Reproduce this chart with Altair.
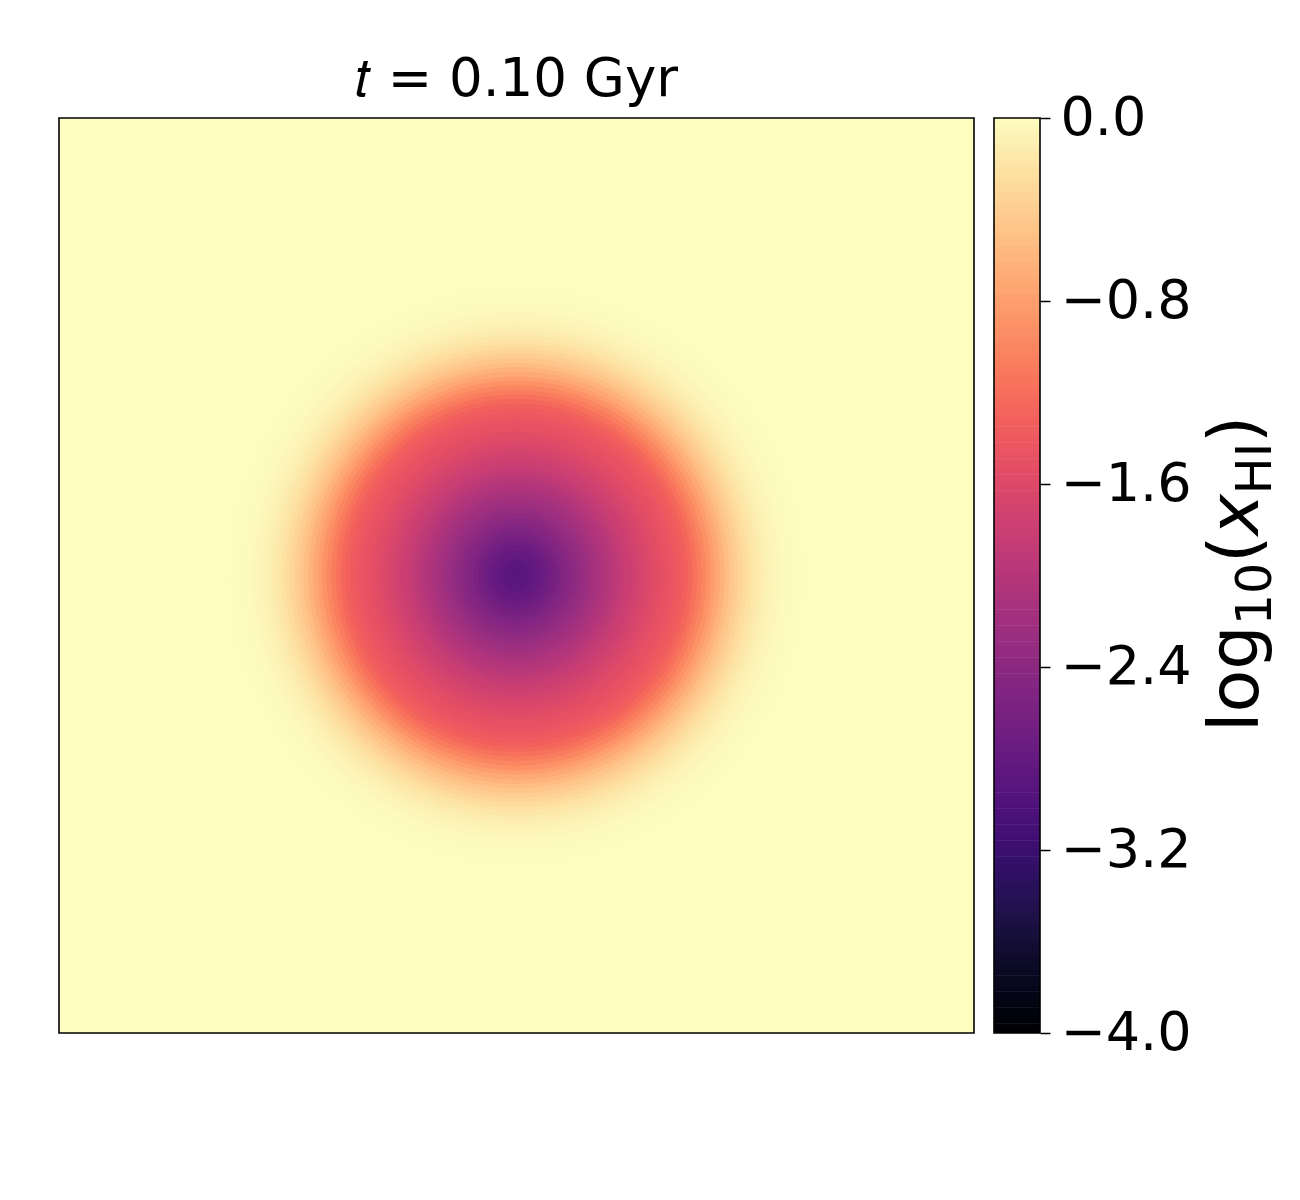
import altair as alt
import numpy as np
import pandas as pd

# ---- data (radial profile of log10(x_HI)) ----
# radius in box units (box is 100 x 100 units), centre of the ionised region
center_x = [50.0]
center_y = [50.0]
radius = [0.0, 0.5, 1.0, 1.5, 2.0, 2.5, 3.0, 3.5, 4.0, 4.5, 5.0, 5.5, 6.0, 6.5,
          7.0, 7.5, 8.0, 8.5, 9.0, 9.5, 10.0, 10.5, 11.0, 11.5, 12.0, 12.5, 13.0,
          13.5, 14.0, 14.5, 15.0, 15.5, 16.0, 16.5, 17.0, 17.5, 18.0, 18.5, 19.0,
          19.5, 20.0, 20.5, 21.0, 21.5, 22.0, 22.5, 23.0, 23.5, 24.0, 24.5, 25.0,
          25.5, 26.0, 26.5, 27.0, 27.5, 28.0, 28.5, 29.0, 29.5, 30.0, 30.5, 31.0, 31.5]
log_xhi = [-2.92, -2.91, -2.89, -2.87, -2.83, -2.79, -2.75, -2.70, -2.64, -2.58,
           -2.52, -2.47, -2.42, -2.37, -2.32, -2.27, -2.22, -2.17, -2.12, -2.07,
           -2.02, -1.97, -1.92, -1.87, -1.82, -1.78, -1.74, -1.70, -1.66, -1.62,
           -1.58, -1.55, -1.52, -1.49, -1.46, -1.42, -1.38, -1.33, -1.26, -1.18,
           -1.09, -1.00, -0.91, -0.81, -0.72, -0.63, -0.55, -0.47, -0.40, -0.34,
           -0.28, -0.23, -0.19, -0.15, -0.12, -0.09, -0.07, -0.05, -0.035, -0.025,
           -0.015, -0.01, -0.005, -0.002]
background_value = [0.0]
box = [0.0, 100.0]
cbar_ticks = [0.0, -0.8, -1.6, -2.4, -3.2, -4.0]
cbar_domain = [-4.0, 0.0]

rings = pd.DataFrame({
    "x": center_x * len(radius),
    "y": center_y * len(radius),
    "r_outer": [r + 0.25 for r in radius],
    "v": log_xhi,
})
bg = pd.DataFrame({"x": [box[0]], "x2": [box[1]], "y": [box[0]], "y2": [box[1]],
                   "v": background_value})

FONT = "DejaVu Sans"
color_scale = alt.Scale(scheme="magma", domain=cbar_domain)
xs = alt.Scale(domain=box, nice=False, zero=False)
ys = alt.Scale(domain=box, nice=False, zero=False)

back = alt.Chart(bg).mark_rect(strokeWidth=0).encode(
    x=alt.X("x:Q", scale=xs, axis=None), x2="x2",
    y=alt.Y("y:Q", scale=ys, axis=None), y2="y2",
    color=alt.Color("v:Q", scale=color_scale, legend=None),
)

discs = alt.Chart(rings).mark_circle(opacity=1, strokeWidth=0).encode(
    x=alt.X("x:Q", scale=xs, axis=None),
    y=alt.Y("y:Q", scale=ys, axis=None),
    size=alt.Size("r_outer:Q", legend=None,
                  scale=alt.Scale(type="pow", exponent=2, domain=[0, 50],
                                  range=[0, 915 * 915], zero=True)),
    color=alt.Color("v:Q", scale=color_scale, legend=None),
    order=alt.Order("r_outer:Q", sort="descending"),
)

frame = alt.Chart(bg).mark_rect(filled=False, stroke="black", strokeWidth=1.6).encode(
    x=alt.X("x:Q", scale=xs, axis=None), x2="x2",
    y=alt.Y("y:Q", scale=ys, axis=None), y2="y2",
)

main = alt.layer(back, discs, frame).properties(
    width=915, height=915,
    title=alt.TitleParams("𝑡 = 0.10 Gyr", fontSize=53, font=FONT,
                          fontWeight="normal", color="black", offset=10,
                          anchor="middle"),
)

# colorbar
cb_vals = np.round(np.arange(-4.0, 0.0, 0.01), 3)
cb = pd.DataFrame({"v": cb_vals, "v2": cb_vals + 0.013})
cys = alt.Scale(domain=cbar_domain, nice=False, zero=False)
cbar_rect = alt.Chart(cb).mark_rect(strokeWidth=0).encode(
    y=alt.Y("v:Q", scale=cys,
            axis=alt.Axis(orient="right", values=cbar_ticks, format=".1f",
                          labelExpr="replace(datum.label, '-', '\u2212')",
                          tickSize=10, tickWidth=1.5, tickColor="black",
                          labelPadding=10, labelFontSize=54, labelFont=FONT,
                          labelColor="black", domain=False, grid=False,
                          labelFlush=False, labelOverlap=False, title=None)),
    y2="v2",
    color=alt.Color("v:Q", scale=color_scale, legend=None),
)
cb_frame_df = pd.DataFrame({"lo": [cbar_domain[0]], "hi": [cbar_domain[1]]})
cbar_frame = alt.Chart(cb_frame_df).mark_rect(filled=False, stroke="black",
                                              strokeWidth=1.6).encode(
    y=alt.Y("lo:Q", scale=cys), y2="hi",
)

one = pd.DataFrame({"k": [0]})

def seg(txt, x, y, size, italic=False):
    return alt.Chart(one).mark_text(
        angle=270, align="left", baseline="alphabetic", font=FONT,
        fontSize=size, fontStyle="italic" if italic else "normal", color="black"
    ).encode(x=alt.value(x), y=alt.value(y), text=alt.value(txt))

F, f = 70, 49
y0 = 614
w_log = 1.525 * F
w_10 = 1.272 * f
w_par = 0.390 * F
w_x = 0.592 * F
w_hi = 1.047 * f
label = [
    seg("log", 264, y0, F),
    seg("10", 277, y0 - w_log, f),
    seg("(", 264, y0 - w_log - w_10, F),
    seg("x", 264, y0 - w_log - w_10 - w_par, F, italic=True),
    seg("HI", 277, y0 - w_log - w_10 - w_par - w_x, f),
    seg(")", 264, y0 - w_log - w_10 - w_par - w_x - w_hi, F),
]

cbar = alt.layer(cbar_rect, cbar_frame, *label).properties(width=46, height=915)

chart = alt.hconcat(main, cbar, spacing=18).properties(
    padding={"left": 50, "top": 46, "right": 5, "bottom": 5}
).configure(font=FONT, background="white").configure_view(stroke=None)

chart.save("out.html", embed_options={"renderer": "svg", "actions": False})
